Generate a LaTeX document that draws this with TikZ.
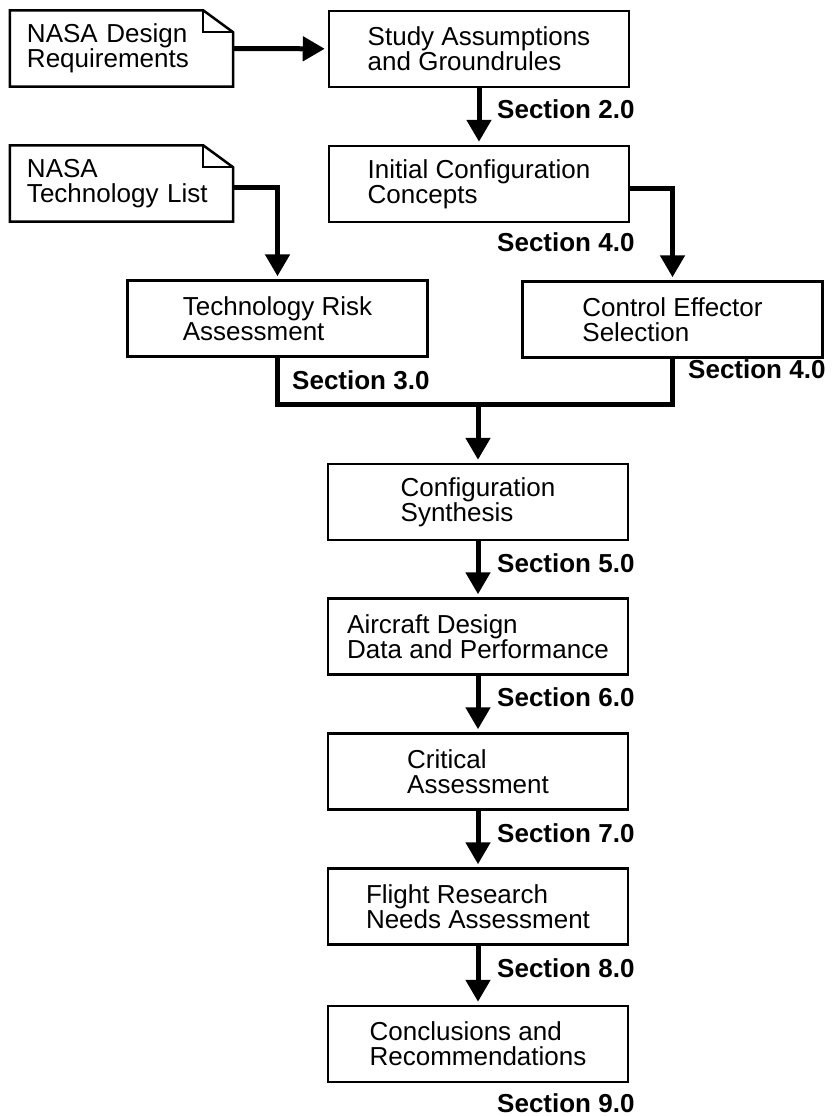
\documentclass[tikz,border=0pt]{standalone}
\usepackage{fontspec}
\setmainfont{Liberation Sans}
\usetikzlibrary{
  positioning,
  calc,
  arrows.meta
}

% outline of a note with a folded corner
\newcommand{\dogear}[1]{%
  \draw[line width=2.5pt] (#1.north west) -- ([xshift=-30pt]#1.north east)
    -- ([yshift=-22pt]#1.north east) -- (#1.south east) -- (#1.south west) -- cycle;
  \draw[line width=2pt] ([xshift=-30pt]#1.north east)
    -- ([xshift=-30pt,yshift=-22pt]#1.north east) -- ([yshift=-22pt]#1.north east);
}

\tikzset{
  box/.style={draw, line width=2.5pt, minimum width=300pt, minimum height=76pt,
    inner sep=0pt, align=left, font=\fontsize{26}{25}\selectfont},
  note/.style={minimum width=223pt, minimum height=76pt, inner ysep=0pt,
    inner xsep=17pt, text width=189pt, align=left, font=\fontsize{26}{25}\selectfont},
  secnum/.style={anchor=west, inner sep=0pt, font=\bfseries\fontsize{26}{25}\selectfont},
  link/.style={line width=5pt},
  flow/.style={link, -{Triangle[width=24pt,length=22pt]}, shorten >=3pt}
}

\begin{document}
\begin{tikzpicture}[x=1pt, y=-1pt]
  \useasboundingbox (0,0) rectangle (832,1116);

  % notes on the left
  \node[note] (req)  at (121.5,48.5)  {NASA Design\\Requirements};
  \node[note] (tech) at (121.5,183.5) {NASA\\Technology List};
  \dogear{req}
  \dogear{tech}

  % upper boxes
  \node[box] (study) at (479,49)      {Study Assumptions\\and Groundrules};
  \node[box] (init)  at (479,184)     {Initial Configuration\\Concepts};
  \node[box] (risk)  at (277.5,318.5) {Technology Risk\\Assessment};
  \node[box] (ctrl)  at (672.5,319.5) {Control Effector\\Selection};

  % main column
  \node[box] (synth)    at (478,502)    {Configuration\\Synthesis};
  \node[box] (aircraft) at (478,636.5)  {Aircraft Design\\Data and Performance};
  \node[box] (critical) at (478,771.5)  {Critical\\Assessment};
  \node[box] (flight)   at (478,906.5)  {Flight Research\\Needs Assessment};
  \node[box] (concl)    at (478,1044)   {Conclusions and\\Recommendations};

  % section numbers
  \node[secnum] (s2)  at (497,109)  {Section 2.0};
  \node[secnum] (s4a) at (497,242)  {Section 4.0};
  \node[secnum] (s3)  at (292,380)  {Section 3.0};
  \node[secnum] (s4b) at (688,369)  {Section 4.0};
  \node[secnum] (s5)  at (497,563)  {Section 5.0};
  \node[secnum] (s6)  at (497,697)  {Section 6.0};
  \node[secnum] (s7)  at (497,833)  {Section 7.0};
  \node[secnum] (s8)  at (497,968)  {Section 8.0};
  \node[secnum] (s9)  at (497,1103) {Section 9.0};

  % connectors
  \draw[flow] (req) -- (study);
  \draw[flow] (study) -- (init);
  \draw[flow] ([yshift=-4pt]tech.east) -| (risk.north);
  \draw[flow] ([yshift=-4pt]init.east) -| (ctrl.north);

  \path (synth.north) ++(0,-58) coordinate (merge);
  \draw[link] (risk.south) |- (merge) -| (ctrl.south);
  \draw[flow] (merge) -- (synth);

  \draw[flow] (synth) -- (aircraft);
  \draw[flow] (aircraft) -- (critical);
  \draw[flow] (critical) -- (flight);
  \draw[flow] (flight) -- (concl);
\end{tikzpicture}
\end{document}
